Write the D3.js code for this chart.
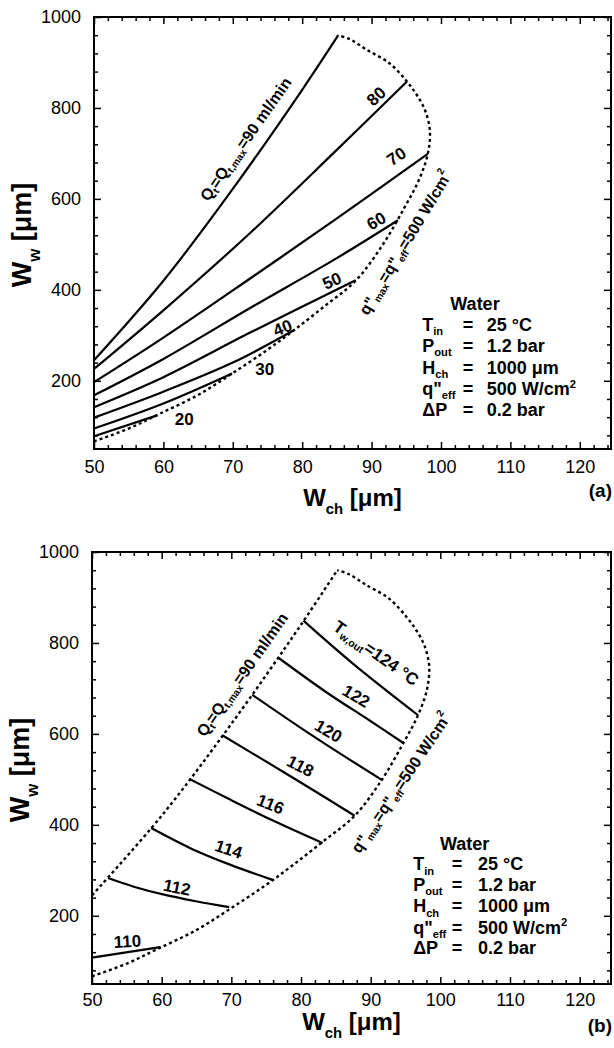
<!DOCTYPE html>
<html>
<head>
<meta charset="utf-8">
<script src="https://cdn.jsdelivr.net/npm/d3@7"></script>
<style>
body { margin: 0; background: #fff; }
svg text { font-family: "Liberation Sans", Arial, sans-serif; fill: #000; }
</style>
</head>
<body>
<div id="chart-area"></div>
<script>
// axis extents and ticks
const xDomain = [50, 124.5];
const yDomain = [50, 1000];
const xTicks = [50, 60, 70, 80, 90, 100, 110, 120];
const yTicks = [200, 400, 600, 800, 1000];

// Q_t = Q_t,max = 90 ml/min boundary  [W_ch, W_w]
const qMaxLine = [[50, 245], [60, 420], [70, 622], [80, 840], [85.2, 960]];
// q"max = q"eff = 500 W/cm2 boundary
const qEffBoundary = [[50, 67], [55, 95], [59.4, 127], [64.9, 168], [69.9, 216], [74.8, 266],
  [78.8, 311], [83.3, 365], [87.7, 420], [91.6, 499], [94.7, 580], [96.8, 641], [98.1, 699],
  [98.4, 750], [97.7, 795], [96.5, 829], [95.1, 858], [92.6, 898], [89.3, 928], [86.9, 951],
  [85.2, 960]];

// panel (a): constant flow rate lines, ml/min
const flowNames = ["20", "30", "40", "50", "60", "70", "80"];
const flow20 = [[50, 78], [59.1, 124]];
const flow30 = [[50, 95], [60, 150], [69.9, 216]];
const flow40 = [[50, 119], [60, 176], [70, 240], [78.8, 311]];
const flow50 = [[50, 142], [60, 208], [72.5, 306], [87.7, 421]];
const flow60 = [[50, 168], [60, 248], [72.5, 360], [84.8, 468], [93.8, 553]];
const flow70 = [[50, 197], [60, 295], [72.5, 425], [84.8, 555], [98.1, 699]];
const flow80 = [[50, 226], [60, 355], [72.5, 525], [84.8, 705], [95.1, 858]];

// panel (b): constant outlet wall temperature lines, degC
const tempNames = ["110", "112", "114", "116", "118", "120", "122", "124"];
const temp110 = [[50, 108], [59.8, 131]];
const temp112 = [[52.3, 283], [56, 264], [60.2, 247], [64.9, 232], [69.7, 219]];
const temp114 = [[58.5, 393], [64.5, 346], [69.9, 312], [75.9, 279]];
const temp116 = [[64, 501], [69.9, 455], [75.9, 410], [83.1, 360]];
const temp118 = [[68.7, 597], [74.9, 540], [81.9, 475], [87.7, 420]];
const temp120 = [[73, 686], [79.8, 615], [85.8, 555], [91.6, 499]];
const temp122 = [[76.7, 768], [83.8, 690], [89.8, 630], [94.7, 580]];
const temp124 = [[80.35, 849], [87.8, 750], [96.8, 641]];

// legend rows: symbol, subscript, value
const legendRows = [
  ["T", "in", "25 °C"],
  ["P", "out", "1.2 bar"],
  ["H", "ch", "1000 μm"],
  ["q\"", "eff", "500 W/cm", "2"],
  ["ΔP", "", "0.2 bar"]
];

const qMaxText = [["Q"], ["t", "sub"], ["=Q"], ["t,max", "sub"], ["=90 ml/min"]];
const qEffText = [["q\""], ["max", "sub"], ["=q\""], ["eff", "sub"], ["=500 W/cm"], ["2", "sup"]];
const tOutText = [["T"], ["w,out", "sub"], ["=124 °C"]];

const svg = d3.select("#chart-area").append("svg")
  .attr("width", 614).attr("height", 1048);

const rich = function(text, parts, size, subShift = 0.32) {
  let shift = 0;
  parts.forEach(([t, kind]) => {
    const target = kind === "sub" ? size * subShift : kind === "sup" ? -size * 0.42 : 0;
    text.append("tspan")
      .attr("dy", target - shift)
      .attr("font-size", kind ? size * 0.62 : size)
      .text(t);
    shift = target;
  });
};

const drawPanel = function(p) {
  const x = d3.scaleLinear().domain(xDomain).range([p.left, p.right]);
  const y = d3.scaleLinear().domain(yDomain).range([p.bottom, p.top]);
  const g = svg.append("g");

  const xMinor = d3.range(52, 125, 2).filter(v => v % 10 !== 0);
  const yMinor = d3.range(80, 1000, 40).filter(v => v % 200 !== 0);
  const fmt = d3.format("d");

  const axes = [
    [d3.axisBottom(x).tickValues(xTicks).tickSize(-7).tickPadding(p.tickPad).tickFormat(fmt), `translate(0,${p.bottom})`],
    [d3.axisBottom(x).tickValues(xMinor).tickSize(-4).tickFormat(""), `translate(0,${p.bottom})`],
    [d3.axisTop(x).tickValues(xTicks).tickSize(-7).tickFormat(""), `translate(0,${p.top})`],
    [d3.axisTop(x).tickValues(xMinor).tickSize(-4).tickFormat(""), `translate(0,${p.top})`],
    [d3.axisLeft(y).tickValues(yTicks).tickSize(-7).tickPadding(13).tickFormat(fmt), `translate(${p.left},0)`],
    [d3.axisLeft(y).tickValues(yMinor).tickSize(-4).tickFormat(""), `translate(${p.left},0)`],
    [d3.axisRight(y).tickValues(yTicks).tickSize(-7).tickFormat(""), `translate(${p.right},0)`],
    [d3.axisRight(y).tickValues(yMinor).tickSize(-4).tickFormat(""), `translate(${p.right},0)`]
  ];
  axes.forEach(([ax, tr]) => {
    const a = g.append("g").attr("transform", tr).call(ax);
    a.select(".domain").remove();
    a.selectAll("line").attr("stroke", "#000").attr("stroke-width", 1.5);
    a.selectAll("text").attr("font-size", 18).attr("font-family", "Liberation Sans, Arial, sans-serif");
  });

  g.append("rect")
    .attr("x", p.left).attr("y", p.top)
    .attr("width", p.right - p.left).attr("height", p.bottom - p.top)
    .attr("fill", "none").attr("stroke", "#000").attr("stroke-width", 2);

  const line = d3.line()
    .x(d => x(d[0]))
    .y(d => y(d[1]))
    .curve(d3.curveCatmullRom.alpha(0.5));

  const curves = p.series.map(s => ({ pts: s, dash: null }));
  curves.push({ pts: qEffBoundary, dash: "3,3" });
  curves.push({ pts: qMaxLine, dash: p.qMaxDashed ? "3,3" : null });

  g.selectAll("path.curve")
    .data(curves)
    .join("path")
    .attr("class", "curve")
    .attr("d", d => line(d.pts))
    .attr("fill", "none")
    .attr("stroke", "#000")
    .attr("stroke-width", d => d.dash ? 2.4 : 2.2)
    .attr("stroke-dasharray", d => d.dash);

  // curve labels
  p.labels.forEach(l => {
    const t = g.append("text")
      .attr("transform", `translate(${x(l.at[0])},${y(l.at[1])}) rotate(${l.angle})`)
      .attr("text-anchor", "middle")
      .attr("dominant-baseline", "central")
      .attr("font-weight", "bold");
    if (Array.isArray(l.text)) rich(t, l.text, l.size);
    else t.attr("font-size", l.size).text(l.text);
  });

  // legend block
  const lg = p.legend;
  const fs = 18;
  g.append("text")
    .attr("x", x(lg.water)).attr("y", y(lg.rows[0]))
    .attr("text-anchor", "middle").attr("font-weight", "bold").attr("font-size", fs)
    .text("Water");
  legendRows.forEach((r, i) => {
    const yy = y(lg.rows[i + 1]);
    const s = g.append("text").attr("x", x(lg.sym)).attr("y", yy).attr("font-weight", "bold");
    rich(s, r[1] ? [[r[0]], [r[1], "sub"]] : [[r[0]]], fs, 0.24);
    g.append("text").attr("x", x(lg.eq)).attr("y", yy).attr("text-anchor", "middle")
      .attr("font-weight", "bold").attr("font-size", fs).text("=");
    const v = g.append("text").attr("x", x(lg.val)).attr("y", yy).attr("font-weight", "bold");
    rich(v, r[3] ? [[r[2]], [r[3], "sup"]] : [[r[2]]], fs);
  });

  // axis titles
  const xt = g.append("text")
    .attr("x", (p.left + p.right) / 2).attr("y", p.bottom + p.titleGap)
    .attr("text-anchor", "middle").attr("font-weight", "bold");
  rich(xt, [["W"], ["ch", "sub"], [" [μm]"]], 24);

  const yt = g.append("text")
    .attr("transform", `translate(${p.left - 63},${(p.top + p.bottom) / 2 + 2}) rotate(-90)`)
    .attr("text-anchor", "middle").attr("font-weight", "bold");
  rich(yt, [["W"], ["w", "sub"], [" [μm]"]], 27);

  g.append("text")
    .attr("x", 612).attr("y", p.bottom + 48)
    .attr("text-anchor", "end").attr("font-weight", "bold").attr("font-size", 19)
    .text(p.tag);
};

drawPanel({
  left: 94, right: 611, top: 17, bottom: 449, titleGap: 57, tickPad: 11,
  tag: "(a)",
  qMaxDashed: false,
  series: [flow20, flow30, flow40, flow50, flow60, flow70, flow80],
  labels: [
    { text: qMaxText, at: [71.8, 732], angle: -55, size: 16 },
    { text: flowNames[6], at: [90.7, 825], angle: -43, size: 17 },
    { text: flowNames[5], at: [93.6, 693], angle: -34, size: 17 },
    { text: flowNames[4], at: [90.7, 551], angle: -30, size: 17 },
    { text: flowNames[3], at: [84.3, 419], angle: -24, size: 17 },
    { text: flowNames[2], at: [77.2, 316], angle: -22, size: 17 },
    { text: flowNames[1], at: [74.6, 225], angle: 0, size: 17 },
    { text: flowNames[0], at: [63, 115], angle: 0, size: 17 },
    { text: qEffText, at: [94.8, 504], angle: -59, size: 16 }
  ],
  legend: { water: 104.9, sym: 97.3, eq: 103.9, val: 106.6,
    rows: [356.6, 310.5, 263, 216, 168.5, 121.8] }
});

drawPanel({
  left: 92, right: 611, top: 552, bottom: 984, titleGap: 46, tickPad: 9,
  tag: "(b)",
  qMaxDashed: true,
  series: [temp110, temp112, temp114, temp116, temp118, temp120, temp122, temp124],
  labels: [
    { text: tempNames[0], at: [55.1, 143], angle: -3, size: 17 },
    { text: tempNames[1], at: [62.2, 261.5], angle: 11, size: 17 },
    { text: tempNames[2], at: [69.6, 345.6], angle: 18, size: 17 },
    { text: tempNames[3], at: [75.6, 444.4], angle: 22, size: 17 },
    { text: tempNames[4], at: [79.9, 528.5], angle: 27, size: 17 },
    { text: tempNames[5], at: [83.9, 605.4], angle: 30, size: 17 },
    { text: tempNames[6], at: [87.9, 682.3], angle: 31, size: 17 },
    { text: tOutText, at: [90.8, 778], angle: 35, size: 17 },
    { text: qMaxText, at: [71.5, 731], angle: -55, size: 16 },
    { text: qEffText, at: [94.3, 493], angle: -56, size: 16 }
  ],
  legend: { water: 103.5, sym: 96.1, eq: 102.4, val: 105.4,
    rows: [345.6, 300, 255.6, 207.7, 161, 115.5] }
});
</script>
</body>
</html>
